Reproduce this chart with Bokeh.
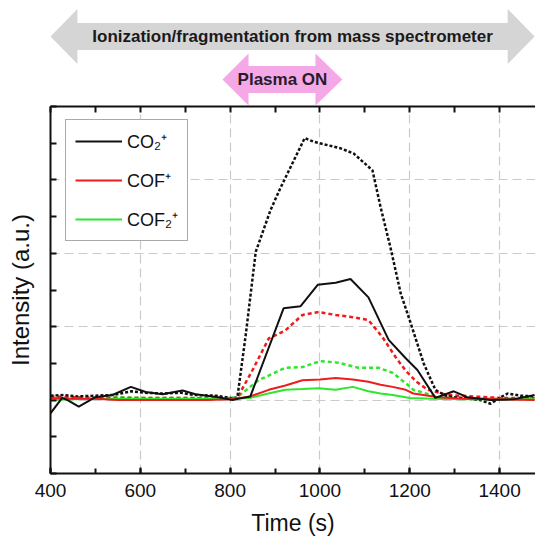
import numpy as np
from bokeh.plotting import figure
from bokeh.models import (Range1d, LinearAxis, SingleIntervalTicker, FixedTicker, Legend, LegendItem, Label)
from bokeh.layouts import column
from bokeh.embed import file_html
from bokeh.resources import INLINE

FONT = "Liberation Sans"

# ---------------- data ----------------
co2_t = [400, 426, 438, 463, 500, 538, 579, 612, 649, 694, 723, 774, 805, 820, 845, 919, 957, 995, 1035, 1068,
         1108, 1153, 1191, 1217, 1257, 1275, 1298, 1328, 1380, 1431, 1478]
co2_y = [-0.18, 0.03, 0.0, -0.09, 0.04, 0.07, 0.18, 0.11, 0.08, 0.13, 0.08, 0.04, 0.0, 0.02, 0.05, 1.25, 1.28,
         1.57, 1.6, 1.65, 1.4, 0.82, 0.57, 0.41, 0.03, 0.07, 0.12, 0.04, 0.0, 0.01, 0.07]

cof_t = [400, 450, 500, 550, 600, 650, 700, 750, 800, 845, 886, 923, 961, 1000, 1035, 1073, 1108, 1135, 1162,
         1191, 1208, 1264, 1320, 1400, 1478]
cof_y = [0.03, 0.02, 0.02, 0.0, 0.0, 0.0, 0.0, 0.0, 0.01, 0.05, 0.14, 0.2, 0.27, 0.28, 0.3, 0.28, 0.25, 0.21,
         0.18, 0.14, 0.09, 0.04, 0.02, 0.01, 0.0]

cof2_t = [400, 450, 500, 550, 600, 650, 700, 750, 800, 845, 885, 923, 961, 997, 1035, 1073, 1108, 1135, 1162,
          1200, 1250, 1320, 1400, 1478]
cof2_y = [0.0, 0.01, 0.02, 0.02, 0.02, 0.02, 0.02, 0.02, 0.02, 0.03, 0.09, 0.14, 0.15, 0.16, 0.14, 0.18, 0.12,
          0.09, 0.07, 0.03, 0.02, 0.01, 0.01, 0.01]

co2_d_t = [400, 430, 460, 500, 540, 580, 610, 650, 690, 720, 770, 800, 816, 835, 857, 890, 912, 966, 986, 1046,
           1075, 1097, 1117, 1135, 1157, 1180, 1202, 1231, 1257, 1280, 1298, 1330, 1357, 1380, 1400, 1418, 1446, 1478]
co2_d_y = [0.06, 0.07, 0.05, 0.06, 0.07, 0.12, 0.1, 0.09, 0.1, 0.07, 0.06, 0.03, 0.03, 0.9, 2.02, 2.59, 2.89,
           3.57, 3.52, 3.43, 3.36, 3.24, 3.13, 2.63, 2.08, 1.45, 1.05, 0.5, 0.14, 0.06, 0.04, 0.02, 0.0, -0.05,
           0.03, 0.09, 0.06, 0.05]

cof_d_t = [400, 450, 500, 550, 600, 650, 700, 750, 800, 816, 850, 886, 923, 961, 997, 1035, 1073, 1108, 1139,
           1168, 1191, 1215, 1240, 1284, 1340, 1400, 1450, 1478]
cof_d_y = [0.05, 0.04, 0.03, 0.03, 0.03, 0.03, 0.03, 0.02, 0.02, 0.03, 0.41, 0.84, 0.95, 1.16, 1.2, 1.16, 1.13,
           1.09, 0.86, 0.59, 0.4, 0.25, 0.14, 0.07, 0.05, 0.03, 0.03, 0.03]

cof2_d_t = [400, 450, 500, 550, 600, 650, 700, 750, 800, 816, 863, 923, 961, 1001, 1041, 1086, 1131, 1162, 1191,
            1208, 1264, 1320, 1400, 1478]
cof2_d_y = [0.02, 0.03, 0.03, 0.04, 0.03, 0.03, 0.03, 0.03, 0.03, 0.04, 0.27, 0.44, 0.45, 0.53, 0.51, 0.44, 0.44,
            0.37, 0.23, 0.14, 0.04, 0.02, 0.02, 0.02]

labels = ["CO\u2082\u207a", "COF\u207a", "COF\u2082\u207a"]
top_text = "Ionization/fragmentation from mass spectrometer"
plasma_text = "Plasma ON"

X0, X1 = 400, 1480
Y0, Y1 = -1, 4
BLACK, RED, GREEN = "#111111", "#ee1c1c", "#2ee62e"

# ---------------- top (arrows) ----------------
top = figure(width=535, height=105, x_range=Range1d(X0, X1), y_range=Range1d(0, 105),
             output_backend="svg", toolbar_location=None,
             min_border_left=50, min_border_right=0, min_border_top=0, min_border_bottom=0)
top.axis.visible = False
top.grid.visible = False
top.outline_line_color = None


def double_arrow(p, tl, bl, br, tr, cy, hh, sh, color):
    xs = [tl, bl, bl, br, br, tr, br, br, bl, bl]
    ys = [cy, cy + hh, cy + sh, cy + sh, cy + hh, cy, cy - hh, cy - sh, cy - sh, cy - hh]
    p.patch(xs, ys, fill_color=color, line_color=None)


double_arrow(top, 400, 460, 1418, 1478, 69, 27.5, 13.5, "#d5d5d5")
double_arrow(top, 783, 841, 990, 1050, 26, 26, 13.5, "#f4a9e6")
top.add_layout(Label(x=(400 + 1478) / 2, y=69, text=top_text, text_align="center", text_baseline="middle",
                     text_font=FONT, text_font_style="bold", text_font_size="17px", text_color="#1a1a1a"))
top.add_layout(Label(x=(783 + 1050) / 2, y=26, text=plasma_text, text_align="center", text_baseline="middle",
                     text_font=FONT, text_font_style="bold", text_font_size="17px", text_color="#2a1a2a"))

# ---------------- main plot ----------------
p = figure(width=535, height=434, x_range=Range1d(X0, X1), y_range=Range1d(Y0, Y1),
           output_backend="svg", toolbar_location=None, x_axis_location=None, y_axis_location=None,
           min_border_left=50, min_border_right=0, min_border_top=1, min_border_bottom=66)
p.outline_line_color = None
p.background_fill_color = "white"
p.border_fill_color = "white"

xt = SingleIntervalTicker(interval=200, num_minor_ticks=2)
yt = SingleIntervalTicker(interval=1, num_minor_ticks=2)
# tick-only axes (no labels): every position drawn as a minor tick
x_only = FixedTicker(ticks=[], minor_ticks=list(np.arange(X0, X1 + 1, 100)))
y_only = FixedTicker(ticks=[], minor_ticks=list(np.arange(Y0, Y1 + 0.01, 0.5)))

xb = LinearAxis(ticker=xt, axis_label="Time (s)")
xa = LinearAxis(ticker=x_only)
yl = LinearAxis(ticker=y_only, axis_label="Intensity (a.u.)")
for ax in (xb, xa, yl):
    ax.axis_line_width = 2
    ax.axis_line_color = "#111111"
    ax.major_tick_in = 6
    ax.major_tick_out = 0
    ax.minor_tick_in = 6
    ax.minor_tick_out = 0
    ax.major_tick_line_width = 2
    ax.minor_tick_line_width = 2
    ax.major_tick_line_color = "#111111"
    ax.minor_tick_line_color = "#111111"
    ax.axis_label_text_font = FONT
    ax.axis_label_text_font_style = "normal"
    ax.major_label_text_font = FONT
    ax.axis_label_text_color = "#111111"
    ax.major_label_text_color = "#111111"

xb.minor_tick_in = 5
xb.major_label_text_font_size = "19px"
xb.major_label_standoff = 10
xb.axis_label_text_font_size = "23px"
xb.axis_label_standoff = 10

xa.major_label_standoff = 0
yl.major_label_standoff = 0
yl.axis_label_text_font_size = "24px"
yl.axis_label_standoff = 17

p.add_layout(xb, "below")
p.add_layout(xa, "above")
p.add_layout(yl, "left")

p.xgrid.ticker = xt
p.ygrid.ticker = yt
for g in (p.xgrid, p.ygrid):
    g.grid_line_color = "#cacaca"
    g.grid_line_dash = "9 5"
    g.grid_line_width = 1.2

# dashed series
p.line(cof2_d_t, cof2_d_y, line_color=GREEN, line_width=2.5, line_dash="4 3")
p.line(cof_d_t, cof_d_y, line_color=RED, line_width=2.5, line_dash="4 3")
p.line(co2_d_t, co2_d_y, line_color=BLACK, line_width=2.5, line_dash="3 2")
# solid series
r_cof2 = p.line(cof2_t, cof2_y, line_color=GREEN, line_width=2)
r_cof = p.line(cof_t, cof_y, line_color=RED, line_width=2)
r_co2 = p.line(co2_t, co2_y, line_color=BLACK, line_width=2)

legend = Legend(items=[LegendItem(label=labels[0], renderers=[r_co2]),
                       LegendItem(label=labels[1], renderers=[r_cof]),
                       LegendItem(label=labels[2], renderers=[r_cof2])],
                location=(15, 232))
legend.border_line_color = "#555555"
legend.border_line_width = 1.5
legend.background_fill_alpha = 1
legend.label_text_font = FONT
legend.label_text_font_size = "18px"
legend.label_text_color = "#111111"
legend.glyph_width = 47
legend.glyph_height = 20
legend.label_height = 20
legend.label_standoff = 5
legend.spacing = 15
legend.padding = 9
legend.margin = 0
p.add_layout(legend, "center")

layout = column(top, p, spacing=0)
open("out.html", "w").write(file_html(layout, INLINE))
